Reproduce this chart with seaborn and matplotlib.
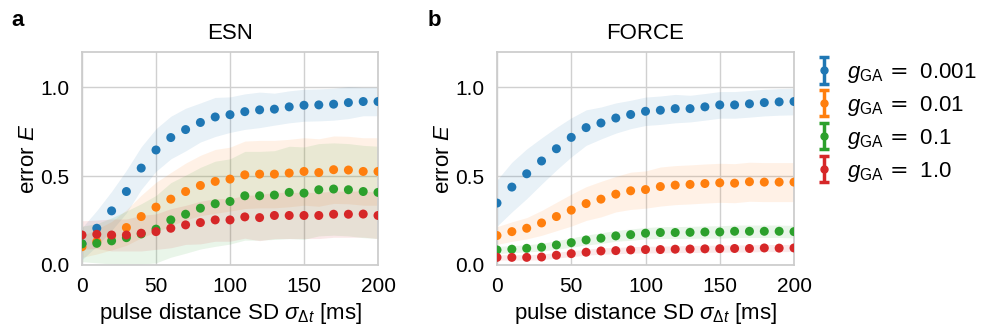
import numpy as np
import pandas as pd
import matplotlib
matplotlib.use("Agg")
import matplotlib.pyplot as plt
from matplotlib.legend_handler import HandlerErrorbar
import seaborn as sns

sns.set_theme(style="whitegrid")
plt.rcParams['font.family'] = ['Liberation Sans', 'DejaVu Sans']
plt.rcParams['mathtext.fontset'] = 'custom'
plt.rcParams['mathtext.rm'] = 'Liberation Sans'
plt.rcParams['mathtext.it'] = 'Liberation Sans:italic'
plt.rcParams['mathtext.bf'] = 'Liberation Sans:bold'
plt.rcParams['mathtext.sf'] = 'DejaVu Sans'
for k in ['text.color', 'axes.labelcolor', 'xtick.color', 'ytick.color']:
    plt.rcParams[k] = 'black'

# ---------------- data ----------------
sigma = [0, 10, 20, 30, 40, 50, 60, 70, 80, 90, 100, 110, 120, 130, 140, 150, 160, 170, 180, 190, 200]
g_labels = ["0.001", "0.01", "0.1", "1.0"]
colors = ["#1f77b4", "#ff7f0e", "#2ca02c", "#d62728"]

esn_g0001 = [0.12, 0.207, 0.305, 0.414, 0.546, 0.648, 0.718, 0.763, 0.803, 0.834, 0.847, 0.864, 0.874, 0.878, 0.891, 0.900, 0.902, 0.906, 0.915, 0.921, 0.921]
esn_g001 = [0.103, 0.132, 0.165, 0.211, 0.273, 0.326, 0.371, 0.414, 0.448, 0.471, 0.484, 0.508, 0.512, 0.512, 0.518, 0.527, 0.521, 0.537, 0.535, 0.527, 0.527]
esn_g01 = [0.119, 0.122, 0.136, 0.154, 0.175, 0.202, 0.254, 0.286, 0.320, 0.345, 0.358, 0.390, 0.390, 0.394, 0.409, 0.405, 0.424, 0.428, 0.424, 0.414, 0.409]
esn_g1 = [0.169, 0.173, 0.169, 0.169, 0.179, 0.188, 0.207, 0.226, 0.239, 0.254, 0.254, 0.271, 0.267, 0.279, 0.279, 0.279, 0.279, 0.286, 0.286, 0.287, 0.279]

esn_sd_g0001 = [0.09, 0.10, 0.11, 0.12, 0.12, 0.12, 0.12, 0.12, 0.11, 0.11, 0.10, 0.10, 0.10, 0.09, 0.09, 0.09, 0.09, 0.09, 0.09, 0.08, 0.08]
esn_sd_g001 = [0.06, 0.07, 0.08, 0.10, 0.12, 0.14, 0.15, 0.16, 0.17, 0.18, 0.18, 0.19, 0.19, 0.19, 0.19, 0.19, 0.19, 0.19, 0.19, 0.19, 0.19]
esn_sd_g01 = [0.10, 0.11, 0.13, 0.15, 0.17, 0.19, 0.21, 0.22, 0.23, 0.24, 0.24, 0.25, 0.25, 0.25, 0.26, 0.26, 0.26, 0.26, 0.26, 0.26, 0.26]
esn_sd_g1 = [0.08, 0.08, 0.09, 0.09, 0.10, 0.10, 0.11, 0.11, 0.12, 0.12, 0.12, 0.12, 0.13, 0.13, 0.13, 0.13, 0.13, 0.13, 0.13, 0.13, 0.13]

force_g0001 = [0.349, 0.439, 0.514, 0.586, 0.655, 0.719, 0.774, 0.800, 0.828, 0.848, 0.866, 0.872, 0.881, 0.881, 0.891, 0.902, 0.902, 0.908, 0.915, 0.919, 0.921]
force_g001 = [0.166, 0.188, 0.207, 0.237, 0.273, 0.309, 0.346, 0.371, 0.399, 0.418, 0.425, 0.442, 0.450, 0.454, 0.459, 0.463, 0.461, 0.469, 0.467, 0.467, 0.467]
force_g01 = [0.085, 0.089, 0.094, 0.100, 0.113, 0.126, 0.141, 0.151, 0.164, 0.171, 0.179, 0.183, 0.183, 0.184, 0.186, 0.186, 0.190, 0.190, 0.190, 0.190, 0.188]
force_g1 = [0.043, 0.043, 0.043, 0.045, 0.055, 0.064, 0.072, 0.079, 0.081, 0.085, 0.087, 0.087, 0.089, 0.090, 0.091, 0.092, 0.093, 0.093, 0.096, 0.095, 0.096]

force_sd_g0001 = [0.13, 0.14, 0.14, 0.13, 0.12, 0.11, 0.10, 0.09, 0.085, 0.08, 0.08, 0.08, 0.08, 0.075, 0.075, 0.075, 0.075, 0.075, 0.075, 0.075, 0.075]
force_sd_g001 = [0.05, 0.055, 0.06, 0.07, 0.08, 0.09, 0.095, 0.10, 0.10, 0.105, 0.105, 0.11, 0.11, 0.11, 0.11, 0.11, 0.11, 0.11, 0.11, 0.11, 0.11]
force_sd_g01 = [0.02, 0.02, 0.02, 0.022, 0.024, 0.026, 0.028, 0.03, 0.03, 0.032, 0.032, 0.033, 0.033, 0.034, 0.034, 0.035, 0.035, 0.035, 0.035, 0.035, 0.035]
force_sd_g1 = [0.015, 0.015, 0.015, 0.016, 0.016, 0.017, 0.017, 0.018, 0.018, 0.018, 0.019, 0.019, 0.019, 0.02, 0.02, 0.02, 0.02, 0.02, 0.02, 0.02, 0.02]

panels = [
    ("ESN", [esn_g0001, esn_g001, esn_g01, esn_g1], [esn_sd_g0001, esn_sd_g001, esn_sd_g01, esn_sd_g1]),
    ("FORCE", [force_g0001, force_g001, force_g01, force_g1], [force_sd_g0001, force_sd_g001, force_sd_g01, force_sd_g1]),
]

# ---------------- figure ----------------
fig = plt.figure(figsize=(9.83, 3.30), dpi=100)
W, H = 983, 330
ax_pos = [(82, 52, 378, 265), (497, 52, 794, 265)]
axes = []
for (x0, y0, x1, y1) in ax_pos:
    axes.append(fig.add_axes([x0 / W, 1 - y1 / H, (x1 - x0) / W, (y1 - y0) / H]))

fs_tick = 15
fs_lab = 16
for ax, (title, means, sds) in zip(axes, panels):
    rows = []
    for lab, m, s in zip(g_labels, means, sds):
        for x, mv, sv in zip(sigma, m, s):
            rows.append({"sigma": x, "E": mv, "sd": sv, "g": lab})
    df = pd.DataFrame(rows)
    for lab, c in zip(g_labels, colors):
        d = df[df.g == lab]
        ax.fill_between(d.sigma, d.E - d.sd, d.E + d.sd, color=c, alpha=0.1, linewidth=0)
    sns.scatterplot(data=df, x="sigma", y="E", hue="g", palette=colors, hue_order=g_labels,
                    s=42, linewidth=0, legend=False, ax=ax, zorder=3)
    ax.set_xlim(0, 200)
    ax.set_ylim(0, 1.2)
    ax.set_xticks([0, 50, 100, 150, 200])
    ax.set_yticks([0.0, 0.5, 1.0])
    ax.set_yticklabels(["0.0", "0.5", "1.0"])
    ax.tick_params(labelsize=fs_tick, pad=3)
    ax.set_xlabel(r"pulse distance SD $\sigma_{\Delta t}$ [ms]", fontsize=fs_lab, labelpad=3)
    ax.set_ylabel(r"error $E$", fontsize=fs_lab, labelpad=1)
    ax.set_title(title, fontsize=fs_lab, pad=9)
    for sp in ax.spines.values():
        sp.set_color("#cccccc")
    ax.grid(color="#d0d0d0", linewidth=1)

fig.text(18 / W, 1 - 20 / H, "a", fontsize=fs_lab, fontweight="bold", ha="center", va="center")
fig.text(434 / W, 1 - 20 / H, "b", fontsize=fs_lab, fontweight="bold", ha="center", va="center")

# legend proxies: errorbars placed outside the visible range
handles = []
for lab, c in zip(g_labels, colors):
    h = axes[1].errorbar([-100], [-100], yerr=[0.1], fmt="o", color=c, ecolor=c, capsize=3.5,
                         markersize=5, elinewidth=2.5, capthick=2.5)
    handles.append(h)
axes[1].set_xlim(0, 200)
axes[1].set_ylim(0, 1.2)
fig.legend(handles=handles, labels=[r"$g_\mathrm{GA}\,\mathsf{=}\;\,%s$" % l for l in g_labels],
           loc="upper left", bbox_to_anchor=(795 / W, 1 - 41 / H), frameon=False,
           fontsize=16, handlelength=0.8, handletextpad=0.65, labelspacing=0.4,
           handler_map={type(handles[0]): HandlerErrorbar(xerr_size=0.3, yerr_size=0.6)})

fig.savefig("out.png", dpi=100)
